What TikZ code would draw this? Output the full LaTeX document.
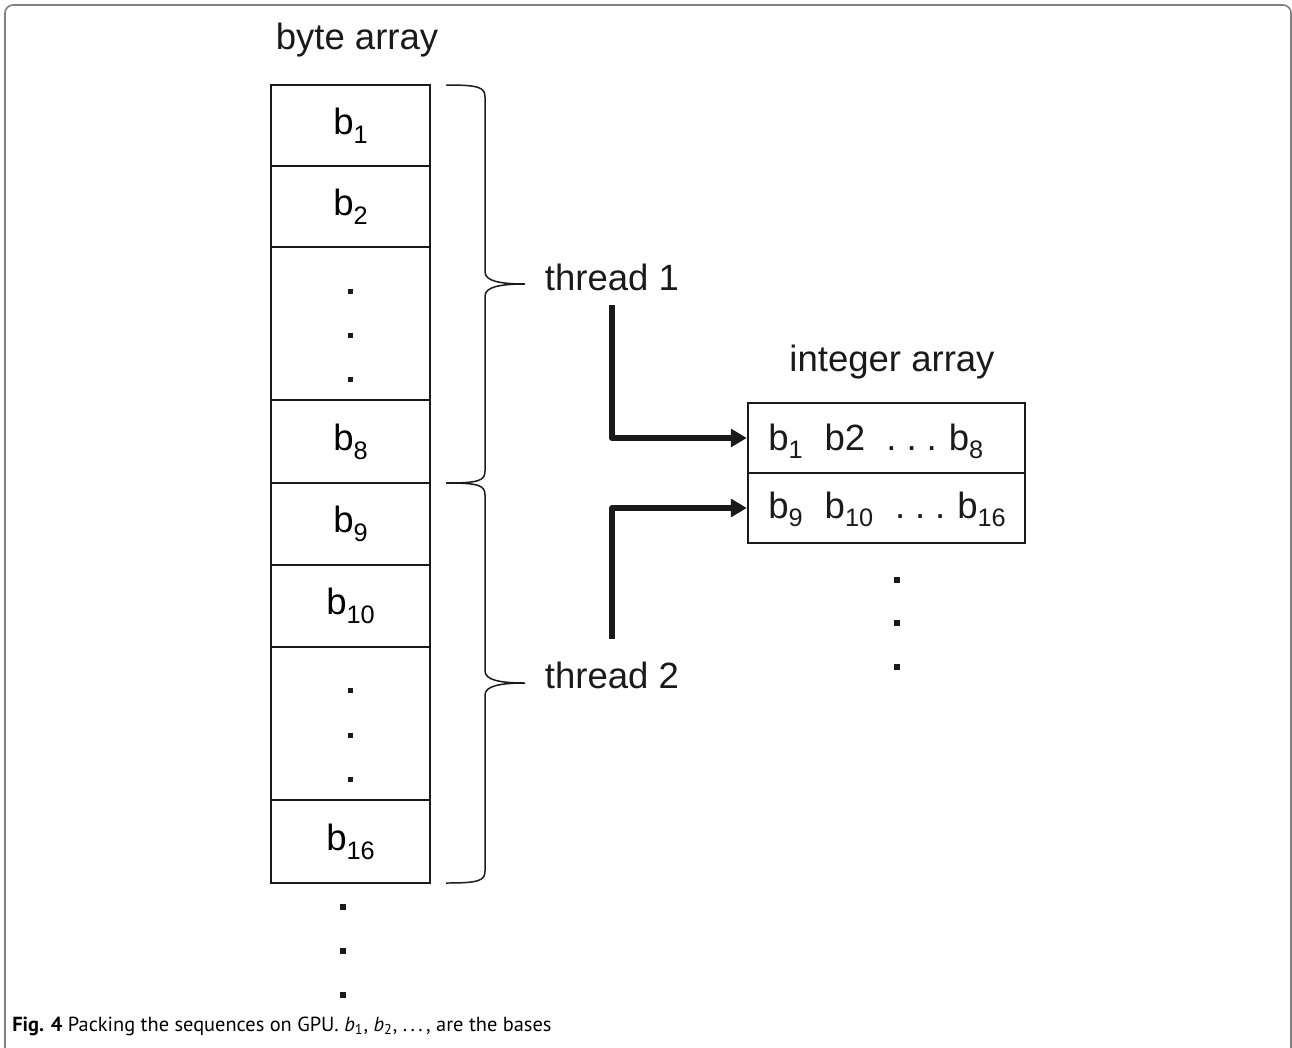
\documentclass[tikz,border=0pt]{standalone}
\usepackage{fontspec}
\setmainfont{Liberation Sans}
\newfontfamily\capfont{PT Sans}
\usetikzlibrary{calc}
\usetikzlibrary{arrows.meta}
\newcommand{\bigtxt}{\fontsize{20.8}{25}\selectfont}
\newcommand{\bsub}[1]{b\raisebox{-0.24em}{\fontsize{14.4}{14}\selectfont #1}}
\newcommand{\threedots}{.\hspace{0.27em}.\hspace{0.27em}.}
\definecolor{framegray}{RGB}{128, 128, 128}
\definecolor{ink}{RGB}{ 26,  26,  26}

\begin{document}
\begin{tikzpicture}[x=0.02cm, y=-0.02cm,
	cell/.style={draw=ink, line width=1.4pt, minimum width=3.18cm, inner sep=0pt, font=\bigtxt},
	slot/.style={draw=ink, line width=1.4pt, minimum width=5.54cm, minimum height=1.4cm, inner sep=0pt},
	title/.style={font=\bigtxt, text=ink, inner sep=0pt},
	thread/.style={font=\bigtxt, text=ink, text depth=0pt},
	bracket/.style={draw=ink, line width=0.85pt},
	flow/.style={draw=ink, line width=3.4pt, line join=round, -{Triangle[length=9pt, width=10pt]}}]
	\useasboundingbox (0, 0) rectangle (1292, 1048);

	% frame
	\draw[framegray, line width=0.9pt, rounded corners=0.16cm] (5, 1048) -- (5, 5) -- (1291, 5) -- (1291, 1048);

	% byte array
	\node[title] (bytes) at (357, 40) {byte array};
	\foreach \nm/\y/\h/\lbl in {
		b1/125.5/1.62cm/{\bsub{1}},  b2/206.5/1.62cm/{\bsub{2}},
		d1/323.5/3.06cm/{},          b8/441.5/1.66cm/{\bsub{8}},
		b9/524/1.64cm/{\bsub{9}},    b10/606/1.64cm/{\bsub{10}},
		d2/723.5/3.06cm/{},          b16/841.5/1.66cm/{\bsub{16}}
	}{
		\node[cell, minimum height=\h] (\nm) at (350.5, \y) {\lbl};
	}

	% dots
	\foreach \x/\y in {
		350/291, 350/335, 350/379,
		350/690, 350/735, 350/779
	}{
		\fill[ink] (\x-2.5, \y-2.5) rectangle (\x+2.5, \y+2.5);
	}
	\foreach \x/\y in {
		343/907, 343/951, 343/995,
		897/580, 897/623, 897/667
	}{
		\fill[ink] (\x-3, \y-3) rectangle (\x+3, \y+3);
	}

	% braces
	\foreach \t/\b in {85/483, 483/883}{
		\draw[bracket] (446, \t) .. controls (478, \t) and (485, \t+2) .. (485, \t+12)
			-- (485, {(\t+\b)/2-12}) .. controls (485, {(\t+\b)/2-3}) and (500, {(\t+\b)/2}) .. (525, {(\t+\b)/2})
			.. controls (500, {(\t+\b)/2}) and (485, {(\t+\b)/2+3}) .. (485, {(\t+\b)/2+12})
			-- (485, \b-12) .. controls (485, \b-2) and (478, \b) .. (446, \b);
	}
	\node[thread] (t1) at (612, 277) {thread 1};
	\node[thread] (t2) at (612, 675) {thread 2};

	% integer array
	\node[title] (ints) at (892, 362) {integer array};
	\node[slot] (int1) at (886.5, 438) {};
	\node[slot] (int2) at (886.5, 508) {};
	\node[title, anchor=base west] (row1) at (768, 450) {\bsub{1}\hspace{0.6em}b2\hspace{0.58em}\threedots\hspace{0.33em}\bsub{8}};
	\node[title, anchor=base west] (row2) at (768, 518) {\bsub{9}\hspace{0.6em}\bsub{10}\hspace{0.6em}\threedots\hspace{0.33em}\bsub{16}};

	\draw[flow] ([yshift=-0.18cm]t1.south) |- (int1.west);
	\draw[flow] ([yshift=0.34cm]t2.north) |- (int2.west);

	% caption
	\node[anchor=base west, inner sep=0pt, font=\capfont\fontsize{11.6}{14}\selectfont] (cap) at (12, 1031)
		{\textbf{Fig. 4} Packing the sequences on GPU. \textit{b}\textsubscript{1}, \textit{b}\textsubscript{2}, .\,.\,.\,, are the bases};
\end{tikzpicture}
\end{document}
